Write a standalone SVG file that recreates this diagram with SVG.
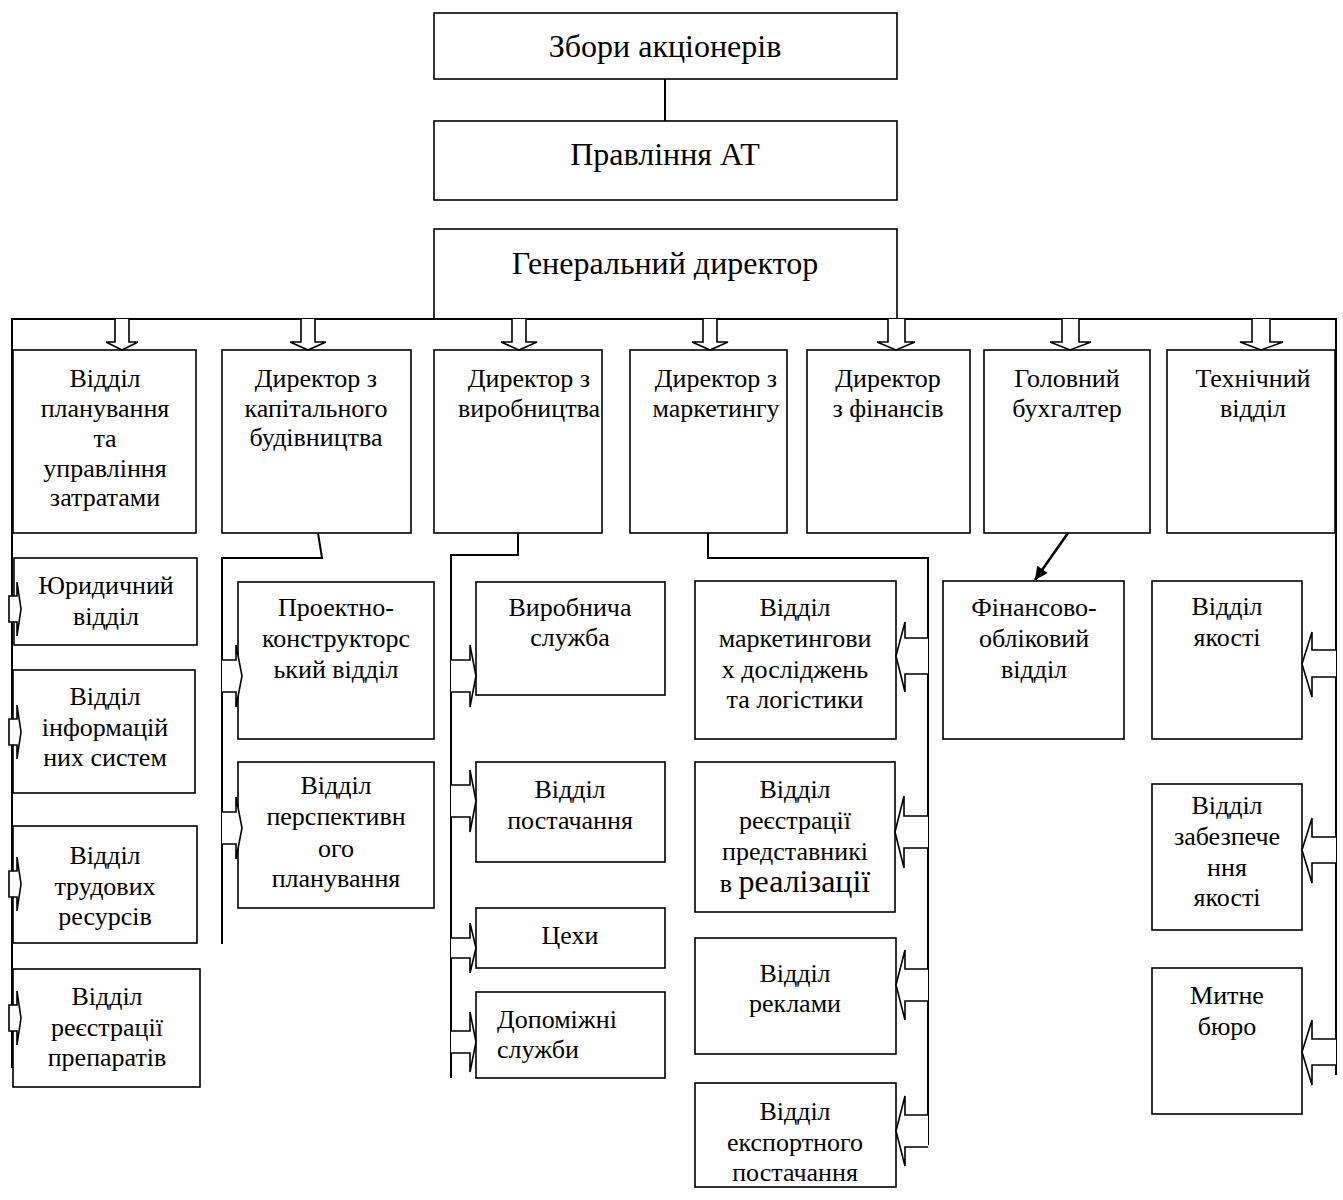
<svg xmlns="http://www.w3.org/2000/svg" width="1343" height="1200" viewBox="0 0 1343 1200">
<style>
.box{fill:#fff;stroke:#000;stroke-width:1.6}
.ln{fill:none;stroke:#000;stroke-width:2}
.ba{fill:#fff;stroke:#000;stroke-width:1.6;stroke-linejoin:miter}
text{font-family:"Liberation Serif","Times New Roman",serif;font-size:26px;fill:#000;text-anchor:middle}
.big{font-size:32px}
</style>
<defs>
<marker id="ah" viewBox="0 0 10 10" refX="10" refY="5" markerWidth="15" markerHeight="13" orient="auto" markerUnits="userSpaceOnUse">
<path d="M0,0 L10,5 L0,10 Z" fill="#000"/>
</marker>
</defs>
<rect width="1343" height="1200" fill="#fff"/>

<g id="n-zbory"><rect class="box" x="434" y="13" width="463" height="66"/><text class="big" x="665" y="57">Збори акціонерів</text></g>
<g id="n-pravlinnya"><rect class="box" x="434" y="121" width="463" height="79"/><text class="big" x="665" y="165">Правління АТ</text></g>
<g id="n-gendir"><rect class="box" x="434" y="229" width="463" height="90"/><text class="big" x="665" y="274">Генеральний директор</text></g>

<g id="n-planuvannya"><rect class="box" x="13" y="350" width="183" height="183"/>
<text><tspan x="105" y="387">Відділ</tspan><tspan x="105" y="417">планування</tspan><tspan x="105" y="447">та</tspan><tspan x="105" y="477">управління</tspan><tspan x="105" y="506">затратами</tspan></text></g>
<g id="n-kapbud"><rect class="box" x="222" y="350" width="189" height="183"/>
<text><tspan x="316" y="387">Директор з</tspan><tspan x="316" y="417">капітального</tspan><tspan x="316" y="446">будівництва</tspan></text></g>
<g id="n-vyrob"><rect class="box" x="434" y="350" width="168" height="183"/>
<text><tspan x="529" y="387">Директор з</tspan><tspan x="529" y="417">виробництва</tspan></text></g>
<g id="n-market"><rect class="box" x="630" y="350" width="157" height="183"/>
<text><tspan x="716" y="387">Директор з</tspan><tspan x="716" y="417">маркетингу</tspan></text></g>
<g id="n-finansy"><rect class="box" x="807" y="350" width="163" height="183"/>
<text><tspan x="888" y="387">Директор</tspan><tspan x="888" y="417">з фінансів</tspan></text></g>
<g id="n-buh"><rect class="box" x="984" y="350" width="166" height="183"/>
<text><tspan x="1067" y="387">Головний</tspan><tspan x="1067" y="417">бухгалтер</tspan></text></g>
<g id="n-tech"><rect class="box" x="1167" y="350" width="168" height="183"/>
<text><tspan x="1253" y="387">Технічний</tspan><tspan x="1253" y="417">відділ</tspan></text></g>

<g id="n-yur"><rect class="box" x="14" y="558" width="183" height="87"/>
<text><tspan x="106" y="594">Юридичний</tspan><tspan x="106" y="625">відділ</tspan></text></g>
<g id="n-inf"><rect class="box" x="13" y="670" width="182" height="123"/>
<text><tspan x="105" y="705">Відділ</tspan><tspan x="105" y="736">інформацій</tspan><tspan x="105" y="766">них систем</tspan></text></g>
<g id="n-trud"><rect class="box" x="13" y="826" width="184" height="117"/>
<text><tspan x="105" y="864">Відділ</tspan><tspan x="105" y="895">трудових</tspan><tspan x="105" y="925">ресурсів</tspan></text></g>
<g id="n-reestr-prep"><rect class="box" x="13" y="969" width="187" height="118"/>
<text><tspan x="107" y="1005">Відділ</tspan><tspan x="107" y="1036">реєстрації</tspan><tspan x="107" y="1066">препаратів</tspan></text></g>

<g id="n-proekt"><rect class="box" x="238" y="582" width="196" height="157"/>
<text><tspan x="336" y="616">Проектно-</tspan><tspan x="336" y="647">конструкторс</tspan><tspan x="336" y="678">ький відділ</tspan></text></g>
<g id="n-persp"><rect class="box" x="238" y="762" width="196" height="146"/>
<text><tspan x="336" y="794">Відділ</tspan><tspan x="336" y="825">перспективн</tspan><tspan x="336" y="857">ого</tspan><tspan x="336" y="887">планування</tspan></text></g>

<g id="n-vyrobnycha"><rect class="box" x="476" y="582" width="189" height="113"/>
<text><tspan x="570" y="616">Виробнича</tspan><tspan x="570" y="646">служба</tspan></text></g>
<g id="n-postach"><rect class="box" x="476" y="762" width="189" height="100"/>
<text><tspan x="570" y="798">Відділ</tspan><tspan x="570" y="829">постачання</tspan></text></g>
<g id="n-tsekhy"><rect class="box" x="476" y="908" width="189" height="60"/>
<text x="570" y="944">Цехи</text></g>
<g id="n-dopom"><rect class="box" x="476" y="992" width="189" height="86"/>
<text style="text-anchor:start"><tspan x="497" y="1028">Допоміжні</tspan><tspan x="497" y="1058">служби</tspan></text></g>

<g id="n-mdosl"><rect class="box" x="695" y="581" width="201" height="158"/>
<text><tspan x="795" y="616">Відділ</tspan><tspan x="795" y="647">маркетингови</tspan><tspan x="795" y="678">х досліджень</tspan><tspan x="795" y="708">та логістики</tspan></text></g>
<g id="n-predst"><rect class="box" x="695" y="762" width="200" height="150"/>
<text><tspan x="795" y="798">Відділ</tspan><tspan x="795" y="829">реєстрації</tspan><tspan x="795" y="860">представникі</tspan><tspan x="795" y="892">в <tspan style="font-size:32px">реалізації</tspan></tspan></text></g>
<g id="n-reklama"><rect class="box" x="695" y="938" width="201" height="116"/>
<text><tspan x="795" y="982">Відділ</tspan><tspan x="795" y="1012">реклами</tspan></text></g>
<g id="n-eksport"><rect class="box" x="695" y="1083" width="201" height="104"/>
<text><tspan x="795" y="1120">Відділ</tspan><tspan x="795" y="1151">експортного</tspan><tspan x="795" y="1181">постачання</tspan></text></g>

<g id="n-finobl"><rect class="box" x="943" y="581" width="181" height="158"/>
<text><tspan x="1034" y="616">Фінансово-</tspan><tspan x="1034" y="647">обліковий</tspan><tspan x="1034" y="678">відділ</tspan></text></g>

<g id="n-yakist"><rect class="box" x="1152" y="581" width="150" height="158"/>
<text><tspan x="1227" y="615">Відділ</tspan><tspan x="1227" y="646">якості</tspan></text></g>
<g id="n-zabezp"><rect class="box" x="1152" y="784" width="150" height="146"/>
<text><tspan x="1227" y="814">Відділ</tspan><tspan x="1227" y="845">забезпече</tspan><tspan x="1227" y="876">ння</tspan><tspan x="1227" y="906">якості</tspan></text></g>
<g id="n-mytne"><rect class="box" x="1152" y="968" width="150" height="146"/>
<text><tspan x="1227" y="1004">Митне</tspan><tspan x="1227" y="1035">бюро</tspan></text></g>

<g id="connectors">
<line class="ln" x1="665" y1="79" x2="665" y2="121"/>
<polyline class="ln" points="12,1068 12,319 1336,319 1336,1075"/>
<polyline class="ln" points="318,533 322,558 222,558 222,944"/>
<polyline class="ln" points="518,533 518,555 451,555 451,1078"/>
<polyline class="ln" points="708,533 708,558 928,558 928,1145"/>
<line class="ln" x1="1068" y1="533" x2="1035" y2="580" marker-end="url(#ah)" style="stroke-width:2.5"/>
<!-- top block arrows -->
<path class="ba" d="M115,319 V342 H106 L122,350 L138,342 H129 V319"/>
<path class="ba" d="M301,319 V342 H290 L308,350 L326,342 H315 V319"/>
<path class="ba" d="M512,319 V342 H501 L519,350 L537,342 H526 V319"/>
<path class="ba" d="M703,319 V342 H692 L710,350 L728,342 H717 V319"/>
<path class="ba" d="M888,319 V342 H877 L896,350 L915,342 H905 V319"/>
<path class="ba" d="M1062,319 V342 H1050 L1070,350 L1091,342 H1079 V319"/>
<path class="ba" d="M1252,319 V342 H1240 L1261,350 L1283,342 H1270 V319"/>
<!-- col1 small arrows -->
<path class="ba" d="M9,596 H17 V582 L21,609 L17,636 V622 H9 Z"/>
<path class="ba" d="M9,719 H17 V705 L21,732 L17,759 V745 H9 Z"/>
<path class="ba" d="M9,871 H17 V857 L21,884 L17,911 V897 H9 Z"/>
<path class="ba" d="M9,1005 H17 V991 L21,1018 L17,1045 V1031 H9 Z"/>
<!-- col2 arrows -->
<path class="ba" d="M222,660 H236 V645 L242,676 L236,707 V692 H222"/>
<path class="ba" d="M222,812 H236 V797 L242,828 L236,859 V844 H222"/>
<!-- col3 arrows -->
<path class="ba" d="M451,660 H470 V645 L476,676 L470,707 V692 H451"/>
<path class="ba" d="M451,785 H470 V770 L476,801 L470,832 V817 H451"/>
<path class="ba" d="M451,938 H470 V923 L476,948 L470,973 V958 H451"/>
<path class="ba" d="M451,1031 H470 V1012 L476,1042 L470,1072 V1053 H451"/>
<!-- col4 arrows -->
<path class="ba" d="M928,638 H905 V622 L896,656 L905,692 V674 H928"/>
<path class="ba" d="M928,816 H904 V796 L895,832 L904,868 V848 H928"/>
<path class="ba" d="M928,969 H905 V950 L896,985 L905,1020 V1001 H928"/>
<path class="ba" d="M928,1115 H905 V1096 L896,1131 L905,1166 V1147 H928"/>
<!-- col7 arrows -->
<path class="ba" d="M1336,650 H1312 V632 L1302,664 L1312,697 V677 H1336"/>
<path class="ba" d="M1336,837 H1312 V818 L1302,850 L1312,883 V863 H1336"/>
<path class="ba" d="M1336,1039 H1312 V1020 L1302,1052 L1312,1085 V1065 H1336"/>
</g>
</svg>
